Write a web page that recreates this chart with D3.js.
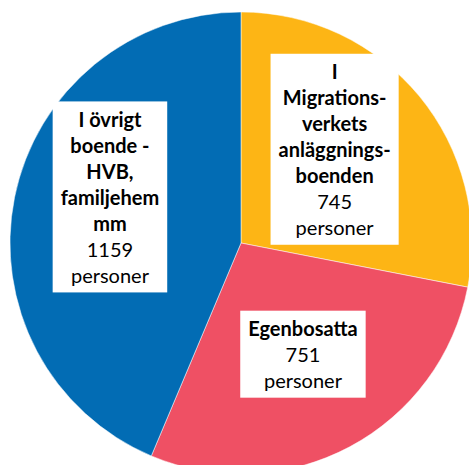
<!DOCTYPE html>
<html>

<head>
    <meta charset="utf-8">
    <title>Boende</title>
    <script type="text/javascript" src="https://cdn.jsdelivr.net/npm/d3@7/dist/d3.min.js"></script>
    <style>
        body { margin: 0; background: #fff; }
        svg { display: block; }
        text { font-family: Lato, "Open Sans", sans-serif; fill: #000; }
    </style>
</head>

<body>
    <div id="chart_div"></div>
    <script type="text/javascript">
        // data
        const categories = ["I Migrationsverkets anläggningsboenden", "Egenbosatta", "I övrigt boende - HVB, familjehem mm"];
        const values = [745, 751, 1159];
        const nameLines = [
            ["I", "Migrations-", "verkets", "anläggnings-", "boenden"],
            ["Egenbosatta"],
            ["I övrigt", "boende -", "HVB,", "familjehem", "mm"]
        ];
        const unit = "personer";
        const colors = ["#FDB515", "#EF5064", "#026CB4"];

        let width = 469;
        let height = 465;
        let cx = 241, cy = 243, radius = 231;
        let lineH = 26;
        // small hand nudges for label boxes (like Excel moved them)
        let nudges = [[-8, -9], [0, -4], [-2, -19]];

        let svg = d3.select("#chart_div").append("svg")
            .attr("width", width)
            .attr("height", height);

        let g = svg.append("g")
            .attr("transform", `translate(${cx},${cy})`);

        let pie = d3.pie().sort(null).value(d => d);
        let arcs = pie(values);

        let arc = d3.arc().innerRadius(0).outerRadius(radius);
        let labelArc = d3.arc().innerRadius(radius * 0.57).outerRadius(radius * 0.57);

        g.selectAll("path")
            .data(arcs)
            .enter().append("path")
            .attr("d", arc)
            .attr("fill", (d, i) => colors[i])
            .attr("stroke", "#fff")
            .attr("stroke-width", 0.5);

        let labels = g.selectAll("g.label")
            .data(arcs)
            .enter().append("g")
            .attr("class", "label")
            .attr("transform", (d, i) => {
                let c = labelArc.centroid(d);
                return `translate(${c[0] + nudges[i][0]},${c[1] + nudges[i][1]})`;
            });

        labels.each(function (d, i) {
            let lab = d3.select(this);
            let lines = nameLines[i].map(t => ({ t: t, bold: true }))
                .concat([{ t: String(values[i]), bold: false }, { t: unit, bold: false }]);
            let n = lines.length;
            let rect = lab.append("rect").attr("fill", "#fff");
            let txt = lab.append("g");
            txt.selectAll("text")
                .data(lines)
                .enter().append("text")
                .attr("text-anchor", "middle")
                .attr("y", (l, k) => (k - (n - 1) / 2) * lineH)
                .attr("dy", "0.36em")
                .attr("font-size", 20)
                .attr("font-weight", l => l.bold ? 700 : 400)
                .text(l => l.t);
            let bb = txt.node().getBBox();
            let w = bb.width + 16;
            let h = n * lineH + 9;
            rect.attr("x", -w / 2).attr("y", -h / 2 - 1)
                .attr("width", w).attr("height", h);
        });
    </script>
</body>

</html>
